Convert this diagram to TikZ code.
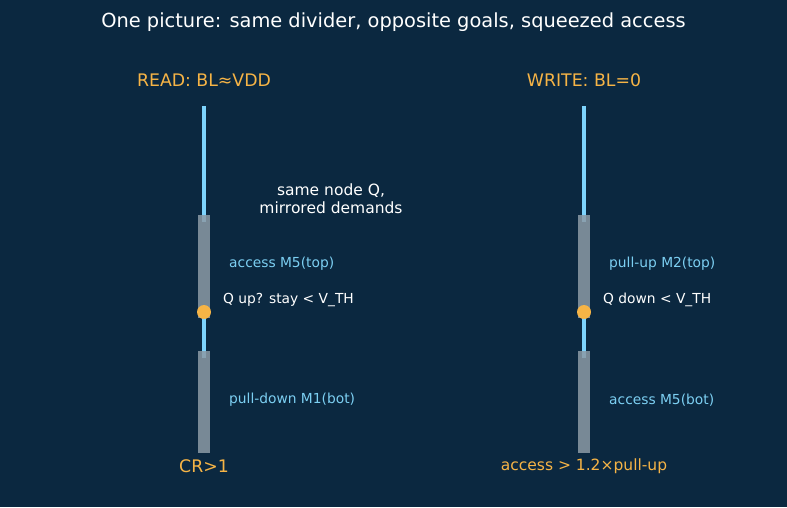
\documentclass[tikz,border=0pt]{standalone}
\usepackage{fontspec}
\setmainfont{DejaVu Sans}
\usetikzlibrary{positioning}

\definecolor{bgnavy}{HTML}{0B2840}
\definecolor{wireblue}{HTML}{7DD3FC}
\definecolor{labelblue}{HTML}{7CCFF2}
\definecolor{accentorange}{HTML}{F6B446}
\definecolor{fetgray}{HTML}{8C9AA6}

\begin{document}
\begin{tikzpicture}[
    x=1pt, y=-1pt,
    title/.style={text=white, font=\fontsize{19.4}{23}\selectfont},
    heading/.style={text=accentorange, font=\fontsize{17.3}{20}\selectfont},
    fetlabel/.style={text=labelblue, anchor=west, inner sep=0pt, font=\fontsize{13.8}{16}\selectfont},
    note/.style={text=white, anchor=west, inner sep=0pt, font=\fontsize{13.8}{16}\selectfont},
    wire/.style={draw=wireblue, line width=3.3pt},
    fet/.style={rectangle, fill=fetgray, fill opacity=0.85, draw=none, minimum width=12.5pt, inner sep=0pt},
    qdot/.style={circle, fill=accentorange, minimum size=14pt, inner sep=0pt}
]

% ─── Canvas ──────────────────────────────────────────────────────────
\fill[bgnavy] (0, 0) rectangle (787, 507);
\useasboundingbox (0, 0) rectangle (787, 507);

\node[title] (headline) at (393.5, 22) {One picture: same divider, opposite goals, squeezed access};

% ─── Two dividers (READ left, WRITE right) ────────────────────────────
\foreach \x/\col/\head in {204/rd/{READ: BL≈VDD}, 584/wr/{WRITE: BL=0}} {
    \node[heading] (head\col) at (\x, 80) {\head};
    \coordinate (bl\col) at (\x, 106);
    \coordinate (topend\col) at (\x, 222);
    \coordinate (q\col) at (\x, 312);
    \coordinate (botend\col) at (\x, 358);
}

% wires first, transistors laid over them
\foreach \x/\col in {204/rd, 584/wr} {
    \draw[wire] (bl\col) -- (topend\col);
    \draw[wire] (q\col) -- (botend\col);
    \node[fet, minimum height=103pt] (top\col) at (\x, 266.5) {};
    \node[fet, minimum height=102pt] (bot\col) at (\x, 402) {};
    \node[qdot] (dot\col) at (q\col) {};
}

% ─── Labels beside each divider ──────────────────────────────────────
\foreach \x/\col/\toplbl/\qlbl/\botlbl in {
    204/rd/{access M5(top)}/{Q up? stay < V\_TH}/{pull-down M1(bot)},
    584/wr/{pull-up M2(top)}/{Q down < V\_TH}/{access M5(bot)}} {
    \node[fetlabel] (toplbl\col) at (\x+25, 264) {\toplbl};
    \node[note] (qlbl\col) at (\x+19, 300) {\qlbl};
    \node[fetlabel] (botlbl\col) at (\x+25, 400) {\botlbl};
}

\node[heading] (footrd) at (204, 466) {CR>1};
\node[heading, font=\fontsize{15.5}{18}\selectfont] (footwr) at (584, 466) {access > 1.2×pull-up};

\node[note, anchor=center, align=center, font=\fontsize{15.5}{18}\selectfont] (mirror) at (331, 199) {same node Q,\\mirrored demands};

\end{tikzpicture}
\end{document}
